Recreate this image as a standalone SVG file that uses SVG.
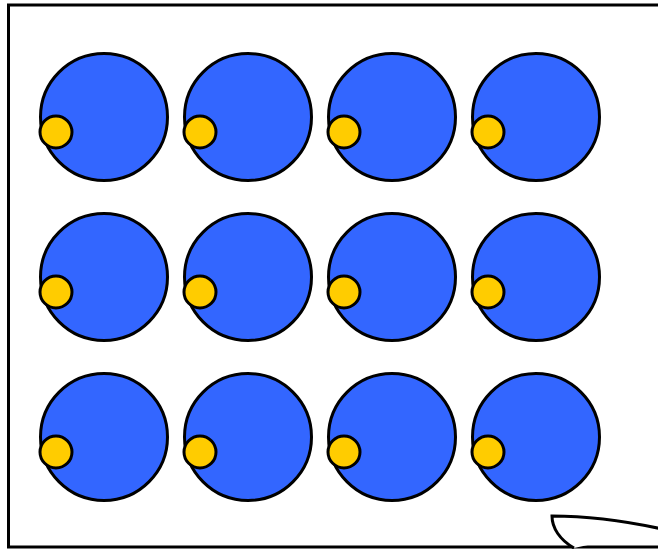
<svg xmlns="http://www.w3.org/2000/svg" width="658" height="549" viewBox="0 0 658 549">
<style>
.big{fill:#3366FF;stroke:#000;stroke-width:3}
.dot{fill:#FFCC00;stroke:#000;stroke-width:3}
.frame{fill:#fff;stroke:#000;stroke-width:3}
</style>
<rect x="0" y="0" width="658" height="549" fill="#fff"/>
<rect class="frame" x="8.5" y="5" width="660" height="542"/>
<g id="n1"><circle class="big" cx="104" cy="117" r="63.5"/><circle class="dot" cx="56" cy="132" r="16"/></g>
<g id="n2"><circle class="big" cx="248" cy="117" r="63.5"/><circle class="dot" cx="200" cy="132" r="16"/></g>
<g id="n3"><circle class="big" cx="392" cy="117" r="63.5"/><circle class="dot" cx="344" cy="132" r="16"/></g>
<g id="n4"><circle class="big" cx="536" cy="117" r="63.5"/><circle class="dot" cx="488" cy="132" r="16"/></g>
<g id="n5"><circle class="big" cx="104" cy="277" r="63.5"/><circle class="dot" cx="56" cy="292" r="16"/></g>
<g id="n6"><circle class="big" cx="248" cy="277" r="63.5"/><circle class="dot" cx="200" cy="292" r="16"/></g>
<g id="n7"><circle class="big" cx="392" cy="277" r="63.5"/><circle class="dot" cx="344" cy="292" r="16"/></g>
<g id="n8"><circle class="big" cx="536" cy="277" r="63.5"/><circle class="dot" cx="488" cy="292" r="16"/></g>
<g id="n9"><circle class="big" cx="104" cy="437" r="63.5"/><circle class="dot" cx="56" cy="452" r="16"/></g>
<g id="n10"><circle class="big" cx="248" cy="437" r="63.5"/><circle class="dot" cx="200" cy="452" r="16"/></g>
<g id="n11"><circle class="big" cx="392" cy="437" r="63.5"/><circle class="dot" cx="344" cy="452" r="16"/></g>
<g id="n12"><circle class="big" cx="536" cy="437" r="63.5"/><circle class="dot" cx="488" cy="452" r="16"/></g>
<g id="connectors"></g>
<g id="corner"><path d="M 574 548 C 560 540 552 528 552 516 C 590 516 630 522 662 529" fill="#fff" stroke="#000" stroke-width="3"/></g>
</svg>
